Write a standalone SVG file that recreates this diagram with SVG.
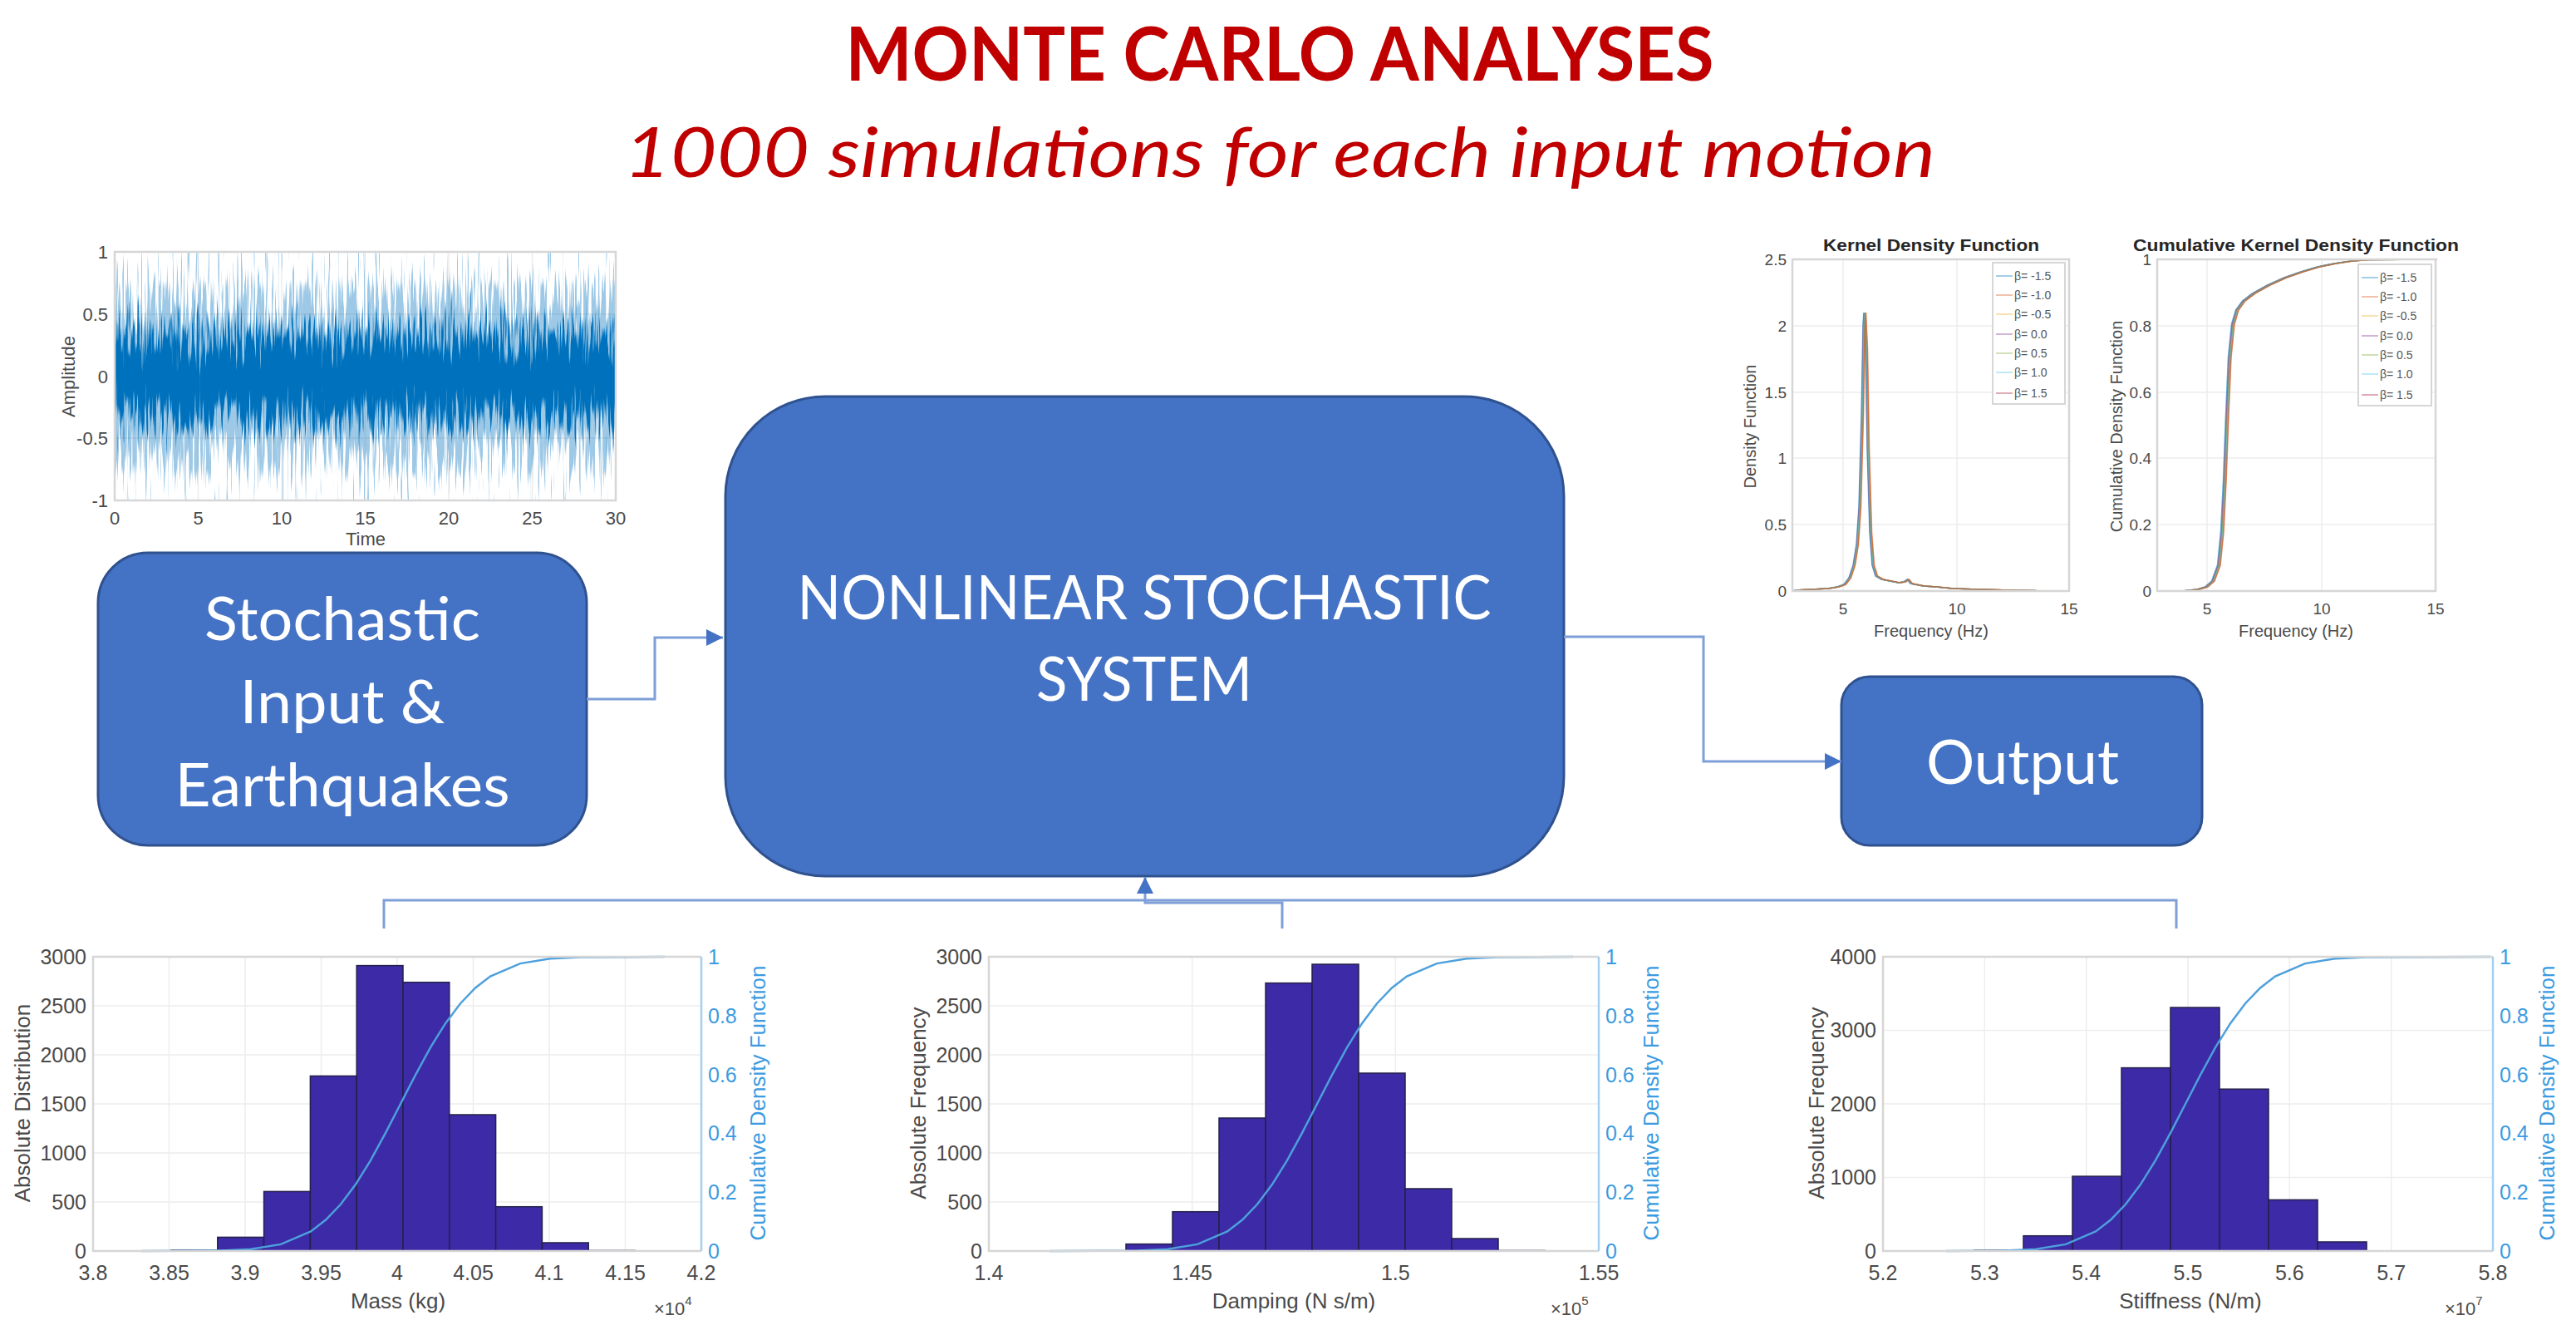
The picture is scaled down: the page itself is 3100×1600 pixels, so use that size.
<svg xmlns="http://www.w3.org/2000/svg" xmlns:xlink="http://www.w3.org/1999/xlink" width="3100" height="1600" viewBox="0 0 3100 1600">
<style>
.ax{fill:none;stroke:#d6d6d6;stroke-width:2.5}
.grid{stroke:#ededed;stroke-width:1.5}
.tk{font-family:"Liberation Sans",Arial,sans-serif;fill:#4a4a4a}
.t25{font-size:25px}
.t22{font-size:22px}
.t19{font-size:19px}
.rt{fill:#3c9be0}
.node{fill:#4472C4;stroke:#2F528F;stroke-width:3}
.nt{font-family:Lato,"Open Sans",sans-serif;fill:#ffffff;text-anchor:middle}
.conn{fill:none;stroke:#7F9FD8;stroke-width:3}
.bar{fill:#3C2AA6;stroke:#23214a;stroke-width:1.5}
.cdf{fill:none;stroke:#4DA0DC;stroke-width:2.5}
.kd{fill:none;stroke-width:1.6;opacity:0.6}
.lg{font-family:"Liberation Sans",Arial,sans-serif;font-size:14px;fill:#555}
</style>
<defs>
<marker id="arr" markerUnits="userSpaceOnUse" markerWidth="20" markerHeight="20" viewBox="0 0 20 20" refX="20" refY="10" orient="auto">
<path d="M0,0 L20,10 L0,20 z" fill="#4472C4"/>
</marker>
<linearGradient id="env" x1="0" y1="0" x2="0" y2="1">
<stop offset="0" stop-color="#000" stop-opacity="0"/>
<stop offset="0.5" stop-color="#000" stop-opacity="1"/>
<stop offset="1" stop-color="#000" stop-opacity="0"/>
</linearGradient>
<filter id="nzl" x="0" y="0" width="1" height="1" color-interpolation-filters="sRGB">
<feTurbulence type="fractalNoise" baseFrequency="0.4 0.012" numOctaves="2" seed="11" result="t"/>
<feColorMatrix in="t" type="matrix" values="0 0 0 0 0 0 0 0 0 0 0 0 0 0 0 1 0 0 0 0" result="n"/>
<feComposite in="SourceGraphic" in2="n" operator="arithmetic" k1="0" k2="5" k3="7.5" k4="-5.0" result="m"/>
<feFlood flood-color="#0072BD" flood-opacity="0.38" result="c"/>
<feComposite in="c" in2="m" operator="in"/>
</filter>
<filter id="nzd" x="0" y="0" width="1" height="1" color-interpolation-filters="sRGB">
<feTurbulence type="fractalNoise" baseFrequency="0.35 0.015" numOctaves="2" seed="4" result="t"/>
<feColorMatrix in="t" type="matrix" values="0 0 0 0 0 0 0 0 0 0 0 0 0 0 0 1 0 0 0 0" result="n"/>
<feComposite in="SourceGraphic" in2="n" operator="arithmetic" k1="0" k2="7" k3="6" k4="-7.1" result="m"/>
<feFlood flood-color="#0072BD" result="c"/>
<feComposite in="c" in2="m" operator="in"/>
</filter>
<path id="kdc" d="M2160,710 L2180,709 L2200,708 L2212,706 L2220,703 L2226,695 L2231,680 L2235,655 L2238,610 L2241,500 L2243,390 L2244,376 L2246,420 L2248,540 L2251,640 L2254,680 L2258,693 L2265,697 L2275,699 L2285,701 L2292,700 L2296,697 L2300,702 L2315,705 L2330,706 L2350,708 L2380,709 L2420,710 L2450,710.5"/>
<path id="ckc" d="M2598,711 L2630,710.5 L2645,709 L2655,706 L2663,699 L2670,680 L2674,640 L2677,580 L2680,500 L2683,430 L2687,390 L2692,373 L2700,362 L2712,353 L2730,343 L2750,334 L2770,327 L2790,321 L2810,317 L2830,314 L2850,312.5 L2931,312"/>
</defs>
<rect width="3100" height="1600" fill="#ffffff"/>

<g id="title">
<text x="1540" y="97" text-anchor="middle" font-family="Lato,'Liberation Sans',sans-serif" font-weight="bold" font-size="90" fill="#C00000" textLength="1045" lengthAdjust="spacingAndGlyphs">MONTE CARLO ANALYSES</text>
<text x="1540" y="213" text-anchor="middle" font-family="Lato,'Liberation Sans',sans-serif" font-style="italic" font-size="84" fill="#C00000" textLength="1578" lengthAdjust="spacingAndGlyphs">1000 simulations for each input motion</text>
</g>

<g id="chart-signal">
<g class="grid">
<line x1="238.5" y1="303" x2="238.5" y2="602"/><line x1="339" y1="303" x2="339" y2="602"/><line x1="439.5" y1="303" x2="439.5" y2="602"/><line x1="540" y1="303" x2="540" y2="602"/><line x1="640.5" y1="303" x2="640.5" y2="602"/>
<line x1="138" y1="378" x2="741" y2="378"/><line x1="138" y1="453" x2="741" y2="453"/><line x1="138" y1="527" x2="741" y2="527"/>
</g>
<rect x="139" y="304" width="601" height="297" fill="url(#env)" filter="url(#nzl)"/>
<rect x="139" y="304" width="601" height="297" fill="url(#env)" filter="url(#nzd)"/>
<rect class="ax" x="138" y="303" width="603" height="299"/>
<g class="tk t22" text-anchor="end">
<text x="130" y="311">1</text><text x="130" y="386">0.5</text><text x="130" y="461">0</text><text x="130" y="535">-0.5</text><text x="130" y="610">-1</text>
</g>
<g class="tk t22" text-anchor="middle">
<text x="138" y="631">0</text><text x="238.5" y="631">5</text><text x="339" y="631">10</text><text x="439.5" y="631">15</text><text x="540" y="631">20</text><text x="640.5" y="631">25</text><text x="741" y="631">30</text>
<text x="440" y="656">Time</text>
<text transform="translate(90,453) rotate(-90)">Amplitude</text>
</g>
</g>

<g id="chart-kdf">
<g class="grid">
<line x1="2218" y1="312" x2="2218" y2="711"/><line x1="2355" y1="312" x2="2355" y2="711"/>
<line x1="2157" y1="631" x2="2490" y2="631"/><line x1="2157" y1="551" x2="2490" y2="551"/><line x1="2157" y1="472" x2="2490" y2="472"/><line x1="2157" y1="392" x2="2490" y2="392"/>
</g>
<use xlink:href="#kdc" class="kd" stroke="#0072BD" transform="translate(-1,0)"/>
<use xlink:href="#kdc" class="kd" stroke="#D95319" transform="translate(1,0)"/>
<use xlink:href="#kdc" class="kd" stroke="#EDB120"/>
<use xlink:href="#kdc" class="kd" stroke="#7E2F8E" transform="translate(-0.5,0)"/>
<use xlink:href="#kdc" class="kd" stroke="#77AC30" transform="translate(0.5,0)"/>
<use xlink:href="#kdc" class="kd" stroke="#4DBEEE"/>
<use xlink:href="#kdc" class="kd" stroke="#D95319" transform="translate(1.5,0)"/>
<rect class="ax" x="2157" y="312" width="333" height="399"/>
<rect x="2398" y="316" width="87" height="170" fill="#ffffff" stroke="#d6d6d6" stroke-width="2"/>
<g stroke-width="2" opacity="0.35">
<line x1="2402" y1="332" x2="2422" y2="332" stroke="#0072BD"/><line x1="2402" y1="355" x2="2422" y2="355" stroke="#D95319"/><line x1="2402" y1="378" x2="2422" y2="378" stroke="#EDB120"/><line x1="2402" y1="402" x2="2422" y2="402" stroke="#7E2F8E"/><line x1="2402" y1="425" x2="2422" y2="425" stroke="#77AC30"/><line x1="2402" y1="448" x2="2422" y2="448" stroke="#4DBEEE"/><line x1="2402" y1="473" x2="2422" y2="473" stroke="#A2142F"/>
</g>
<g class="lg">
<text x="2424" y="337">β= -1.5</text><text x="2424" y="360">β= -1.0</text><text x="2424" y="383">β= -0.5</text><text x="2424" y="407">β= 0.0</text><text x="2424" y="430">β= 0.5</text><text x="2424" y="453">β= 1.0</text><text x="2424" y="478">β= 1.5</text>
</g>
<text x="2324" y="302" text-anchor="middle" font-family="'Liberation Sans',Arial,sans-serif" font-weight="bold" font-size="21" fill="#262626" textLength="260" lengthAdjust="spacingAndGlyphs">Kernel Density Function</text>
<g class="tk t19" text-anchor="end">
<text x="2150" y="718">0</text><text x="2150" y="638">0.5</text><text x="2150" y="558">1</text><text x="2150" y="479">1.5</text><text x="2150" y="399">2</text><text x="2150" y="319">2.5</text>
</g>
<g class="tk t19" text-anchor="middle">
<text x="2218" y="739">5</text><text x="2355" y="739">10</text><text x="2490" y="739">15</text>
<text x="2324" y="766" font-size="20">Frequency (Hz)</text>
<text transform="translate(2113,513) rotate(-90)" font-size="20">Density Function</text>
</g>
</g>

<g id="chart-ckdf">
<g class="grid">
<line x1="2656" y1="312" x2="2656" y2="711"/><line x1="2794" y1="312" x2="2794" y2="711"/>
<line x1="2596" y1="631" x2="2931" y2="631"/><line x1="2596" y1="551" x2="2931" y2="551"/><line x1="2596" y1="472" x2="2931" y2="472"/><line x1="2596" y1="392" x2="2931" y2="392"/>
</g>
<use xlink:href="#ckc" class="kd" stroke="#0072BD" transform="translate(-1.5,0)"/>
<use xlink:href="#ckc" class="kd" stroke="#D95319" transform="translate(1.5,0)"/>
<use xlink:href="#ckc" class="kd" stroke="#EDB120"/>
<use xlink:href="#ckc" class="kd" stroke="#7E2F8E" transform="translate(-0.5,0)"/>
<use xlink:href="#ckc" class="kd" stroke="#77AC30" transform="translate(0.5,0)"/>
<use xlink:href="#ckc" class="kd" stroke="#4DBEEE" transform="translate(1,0)"/>
<use xlink:href="#ckc" class="kd" stroke="#D95319" transform="translate(2,0)"/>
<rect class="ax" x="2596" y="312" width="335" height="399"/>
<rect x="2838" y="318" width="88" height="170" fill="#ffffff" stroke="#d6d6d6" stroke-width="2"/>
<g stroke-width="2" opacity="0.35">
<line x1="2842" y1="334" x2="2862" y2="334" stroke="#0072BD"/><line x1="2842" y1="357" x2="2862" y2="357" stroke="#D95319"/><line x1="2842" y1="380" x2="2862" y2="380" stroke="#EDB120"/><line x1="2842" y1="404" x2="2862" y2="404" stroke="#7E2F8E"/><line x1="2842" y1="427" x2="2862" y2="427" stroke="#77AC30"/><line x1="2842" y1="450" x2="2862" y2="450" stroke="#4DBEEE"/><line x1="2842" y1="475" x2="2862" y2="475" stroke="#A2142F"/>
</g>
<g class="lg">
<text x="2864" y="339">β= -1.5</text><text x="2864" y="362">β= -1.0</text><text x="2864" y="385">β= -0.5</text><text x="2864" y="409">β= 0.0</text><text x="2864" y="432">β= 0.5</text><text x="2864" y="455">β= 1.0</text><text x="2864" y="480">β= 1.5</text>
</g>
<text x="2763" y="302" text-anchor="middle" font-family="'Liberation Sans',Arial,sans-serif" font-weight="bold" font-size="21" fill="#262626" textLength="392" lengthAdjust="spacingAndGlyphs">Cumulative Kernel Density Function</text>
<g class="tk t19" text-anchor="end">
<text x="2589" y="718">0</text><text x="2589" y="638">0.2</text><text x="2589" y="558">0.4</text><text x="2589" y="479">0.6</text><text x="2589" y="399">0.8</text><text x="2589" y="319">1</text>
</g>
<g class="tk t19" text-anchor="middle">
<text x="2656" y="739">5</text><text x="2794" y="739">10</text><text x="2931" y="739">15</text>
<text x="2763" y="766" font-size="20">Frequency (Hz)</text>
<text transform="translate(2554,513) rotate(-90)" font-size="20">Cumulative Density Function</text>
</g>
</g>

<g id="node-input">
<rect class="node" x="118" y="665" width="588" height="352" rx="60" ry="60"/>
<text class="nt" x="412" y="770" font-size="72" textLength="332" lengthAdjust="spacingAndGlyphs">Stochastic</text>
<text class="nt" x="412" y="870" font-size="72" textLength="247" lengthAdjust="spacingAndGlyphs">Input &amp;</text>
<text class="nt" x="412" y="970" font-size="72" textLength="403" lengthAdjust="spacingAndGlyphs">Earthquakes</text>
</g>

<g id="node-system">
<rect class="node" x="873" y="477" width="1009" height="577" rx="120" ry="120"/>
<text class="nt" x="1377" y="745" font-size="74" textLength="835" lengthAdjust="spacingAndGlyphs">NONLINEAR STOCHASTIC</text>
<text class="nt" x="1377" y="843" font-size="74" textLength="260" lengthAdjust="spacingAndGlyphs">SYSTEM</text>
</g>

<g id="node-output">
<rect class="node" x="2216" y="814" width="434" height="203" rx="34" ry="34"/>
<text class="nt" x="2434" y="943" font-size="74" textLength="232" lengthAdjust="spacingAndGlyphs">Output</text>
</g>

<g id="connectors">
<path class="conn" d="M706,841 H788 V767 H870" marker-end="url(#arr)"/>
<path class="conn" d="M1882,766 H2050 V916 H2216" marker-end="url(#arr)"/>
<path class="conn" d="M462,1117 V1083 H2619 V1117"/>
<path class="conn" d="M1543,1117 V1086 H1378 V1055" marker-end="url(#arr)"/>
</g>

<g id="hist-mass">
<g class="grid">
<line x1="203.5" y1="1151" x2="203.5" y2="1505"/><line x1="295" y1="1151" x2="295" y2="1505"/><line x1="386.5" y1="1151" x2="386.5" y2="1505"/><line x1="478" y1="1151" x2="478" y2="1505"/><line x1="569.5" y1="1151" x2="569.5" y2="1505"/><line x1="661" y1="1151" x2="661" y2="1505"/><line x1="752.5" y1="1151" x2="752.5" y2="1505"/>
<line x1="112" y1="1446" x2="844" y2="1446"/><line x1="112" y1="1387" x2="844" y2="1387"/><line x1="112" y1="1328" x2="844" y2="1328"/><line x1="112" y1="1269" x2="844" y2="1269"/><line x1="112" y1="1210" x2="844" y2="1210"/>
</g>
<g class="bar">
<rect x="206" y="1503.8" width="55.8" height="1.2"/><rect x="261.8" y="1488.4" width="55.8" height="16.6"/><rect x="317.6" y="1433.4" width="55.8" height="71.6"/><rect x="373.4" y="1294.4" width="55.8" height="210.6"/><rect x="429.2" y="1161.6" width="55.8" height="343.4"/><rect x="485" y="1181.7" width="55.8" height="323.3"/><rect x="540.8" y="1341" width="55.8" height="164"/><rect x="596.6" y="1451.7" width="55.8" height="53.3"/><rect x="652.4" y="1495" width="55.8" height="10"/><rect x="708.2" y="1504.4" width="55.8" height="0.6"/>
</g>
<polyline class="cdf" points="170,1505 266,1504.5 302,1502.8 338,1496.9 374,1481.4 392,1467.6 410,1448.8 428,1424.8 446,1395.8 464,1362.9 482,1328 500,1293.1 518,1260.2 536,1231.2 554,1207.2 572,1188.4 590,1174.6 626,1159.1 662,1153.2 698,1151.5 800,1151"/>
<path class="ax" d="M844,1151 H112 V1505 H844"/>
<line x1="844" y1="1151" x2="844" y2="1505" stroke="#a6d0ef" stroke-width="2.5"/>
<g class="tk t25" text-anchor="end">
<text x="104" y="1514">0</text><text x="104" y="1455">500</text><text x="104" y="1396">1000</text><text x="104" y="1337">1500</text><text x="104" y="1278">2000</text><text x="104" y="1219">2500</text><text x="104" y="1160">3000</text>
</g>
<g class="tk t25 rt">
<text x="852" y="1514">0</text><text x="852" y="1443">0.2</text><text x="852" y="1372">0.4</text><text x="852" y="1302">0.6</text><text x="852" y="1231">0.8</text><text x="852" y="1160">1</text>
</g>
<g class="tk t25" text-anchor="middle">
<text x="112" y="1540">3.8</text><text x="203.5" y="1540">3.85</text><text x="295" y="1540">3.9</text><text x="386.5" y="1540">3.95</text><text x="478" y="1540">4</text><text x="569.5" y="1540">4.05</text><text x="661" y="1540">4.1</text><text x="752.5" y="1540">4.15</text><text x="844" y="1540">4.2</text>
<text x="479" y="1574" font-size="26">Mass (kg)</text>
<text transform="translate(36,1327) rotate(-90)" font-size="26">Absolute Distribution</text>
<text class="rt" transform="translate(921,1327) rotate(-90)" font-size="26">Cumulative Density Function</text>
</g>
<text class="tk t22" x="787" y="1582">×10<tspan dy="-12" font-size="15">4</tspan></text>
</g>

<g id="hist-damping">
<g class="grid">
<line x1="1434.7" y1="1151" x2="1434.7" y2="1505"/><line x1="1679.3" y1="1151" x2="1679.3" y2="1505"/>
<line x1="1190" y1="1446" x2="1924" y2="1446"/><line x1="1190" y1="1387" x2="1924" y2="1387"/><line x1="1190" y1="1328" x2="1924" y2="1328"/><line x1="1190" y1="1269" x2="1924" y2="1269"/><line x1="1190" y1="1210" x2="1924" y2="1210"/>
</g>
<g class="bar">
<rect x="1355" y="1496.6" width="56" height="8.4"/><rect x="1411" y="1457.7" width="56" height="47.3"/><rect x="1467" y="1345" width="56" height="160"/><rect x="1523" y="1182.6" width="56" height="322.4"/><rect x="1579" y="1160" width="56" height="345"/><rect x="1635" y="1291" width="56" height="214"/><rect x="1691" y="1430" width="56" height="75"/><rect x="1747" y="1490" width="56" height="15"/><rect x="1803" y="1504.4" width="56" height="0.6"/>
</g>
<polyline class="cdf" points="1263,1505 1369,1504.5 1405,1502.8 1441,1496.9 1477,1481.4 1495,1467.6 1513,1448.8 1531,1424.8 1549,1395.8 1567,1362.9 1585,1328 1603,1293.1 1621,1260.2 1639,1231.2 1657,1207.2 1675,1188.4 1693,1174.6 1729,1159.1 1765,1153.2 1801,1151.5 1893,1151"/>
<path class="ax" d="M1924,1151 H1190 V1505 H1924"/>
<line x1="1924" y1="1151" x2="1924" y2="1505" stroke="#a6d0ef" stroke-width="2.5"/>
<g class="tk t25" text-anchor="end">
<text x="1182" y="1514">0</text><text x="1182" y="1455">500</text><text x="1182" y="1396">1000</text><text x="1182" y="1337">1500</text><text x="1182" y="1278">2000</text><text x="1182" y="1219">2500</text><text x="1182" y="1160">3000</text>
</g>
<g class="tk t25 rt">
<text x="1932" y="1514">0</text><text x="1932" y="1443">0.2</text><text x="1932" y="1372">0.4</text><text x="1932" y="1302">0.6</text><text x="1932" y="1231">0.8</text><text x="1932" y="1160">1</text>
</g>
<g class="tk t25" text-anchor="middle">
<text x="1190" y="1540">1.4</text><text x="1434.7" y="1540">1.45</text><text x="1679.3" y="1540">1.5</text><text x="1924" y="1540">1.55</text>
<text x="1557" y="1574" font-size="26">Damping (N s/m)</text>
<text transform="translate(1114,1327) rotate(-90)" font-size="26">Absolute Frequency</text>
<text class="rt" transform="translate(1996,1327) rotate(-90)" font-size="26">Cumulative Density Function</text>
</g>
<text class="tk t22" x="1866" y="1582">×10<tspan dy="-12" font-size="15">5</tspan></text>
</g>

<g id="hist-stiffness">
<g class="grid">
<line x1="2388.3" y1="1151" x2="2388.3" y2="1505"/><line x1="2510.7" y1="1151" x2="2510.7" y2="1505"/><line x1="2633" y1="1151" x2="2633" y2="1505"/><line x1="2755.3" y1="1151" x2="2755.3" y2="1505"/><line x1="2877.7" y1="1151" x2="2877.7" y2="1505"/>
<line x1="2266" y1="1416.5" x2="3000" y2="1416.5"/><line x1="2266" y1="1328" x2="3000" y2="1328"/><line x1="2266" y1="1239.5" x2="3000" y2="1239.5"/>
</g>
<g class="bar">
<rect x="2376" y="1504.1" width="59" height="0.9"/><rect x="2435" y="1486.7" width="59" height="18.3"/><rect x="2494" y="1415.1" width="59" height="89.9"/><rect x="2553" y="1284.6" width="59" height="220.4"/><rect x="2612" y="1212" width="59" height="293"/><rect x="2671" y="1310.2" width="59" height="194.8"/><rect x="2730" y="1443.4" width="59" height="61.6"/><rect x="2789" y="1494" width="59" height="11"/>
</g>
<polyline class="cdf" points="2342,1505 2414,1504.5 2450,1502.8 2486,1496.9 2522,1481.4 2540,1467.6 2558,1448.8 2576,1424.8 2594,1395.8 2612,1362.9 2630,1328 2648,1293.1 2666,1260.2 2684,1231.2 2702,1207.2 2720,1188.4 2738,1174.6 2774,1159.1 2810,1153.2 2846,1151.5 2997,1151"/>
<path class="ax" d="M3000,1151 H2266 V1505 H3000"/>
<line x1="3000" y1="1151" x2="3000" y2="1505" stroke="#a6d0ef" stroke-width="2.5"/>
<g class="tk t25" text-anchor="end">
<text x="2258" y="1514">0</text><text x="2258" y="1425">1000</text><text x="2258" y="1337">2000</text><text x="2258" y="1248">3000</text><text x="2258" y="1160">4000</text>
</g>
<g class="tk t25 rt">
<text x="3008" y="1514">0</text><text x="3008" y="1443">0.2</text><text x="3008" y="1372">0.4</text><text x="3008" y="1302">0.6</text><text x="3008" y="1231">0.8</text><text x="3008" y="1160">1</text>
</g>
<g class="tk t25" text-anchor="middle">
<text x="2266" y="1540">5.2</text><text x="2388.3" y="1540">5.3</text><text x="2510.7" y="1540">5.4</text><text x="2633" y="1540">5.5</text><text x="2755.3" y="1540">5.6</text><text x="2877.7" y="1540">5.7</text><text x="3000" y="1540">5.8</text>
<text x="2636" y="1574" font-size="26">Stiffness (N/m)</text>
<text transform="translate(2195,1327) rotate(-90)" font-size="26">Absolute Frequency</text>
<text class="rt" transform="translate(3074,1327) rotate(-90)" font-size="26">Cumulative Density Function</text>
</g>
<text class="tk t22" x="2942" y="1582">×10<tspan dy="-12" font-size="15">7</tspan></text>
</g>
</svg>
